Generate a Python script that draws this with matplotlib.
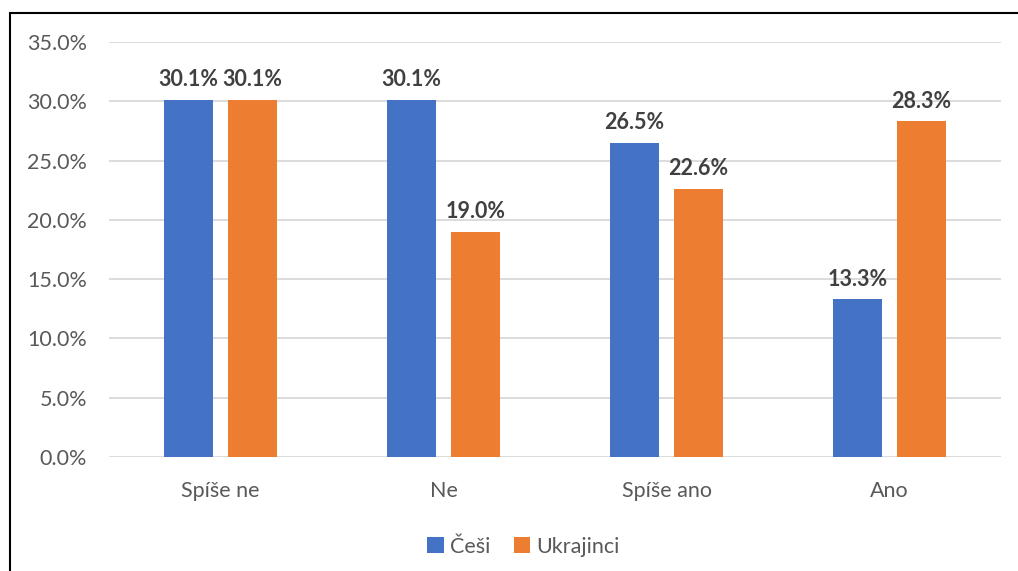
import numpy as np
import matplotlib.pyplot as plt
from matplotlib.patches import Rectangle
from matplotlib.ticker import FuncFormatter

# Data
categories = ['Spíše ne', 'Ne', 'Spíše ano', 'Ano']
cesi = [30.1, 30.1, 26.5, 13.3]
ukrajinci = [30.1, 19.0, 22.6, 28.3]
series_names = ['Češi', 'Ukrajinci']

blue = '#4472C4'
orange = '#ED7D31'
text_col = '#595959'
label_col = '#404040'

plt.rcParams['font.family'] = ['Lato', 'DejaVu Sans']

fig = plt.figure(figsize=(10.18, 5.71), dpi=100)
ax = fig.add_axes([0.1071, 0.1996, 0.8762, 0.7268])

x = np.arange(len(categories))
w = 0.224
off = 0.287
b1 = ax.bar(x - off / 2, cesi, w, color=blue, label=series_names[0], zorder=3)
b2 = ax.bar(x + off / 2, ukrajinci, w, color=orange, label=series_names[1], zorder=3)

for bars, vals in ((b1, cesi), (b2, ukrajinci)):
    for r, v in zip(bars, vals):
        ax.annotate(f'{v:.1f}%', (r.get_x() + r.get_width() / 2, v),
                    xytext=(0, 7), textcoords='offset points',
                    ha='center', va='bottom', fontsize=15.5, fontweight='bold',
                    color=label_col)

ax.set_xlim(-0.5, len(categories) - 0.5)
ax.set_ylim(0, 35)
ax.set_yticks(np.arange(0, 35.1, 5))
ax.yaxis.set_major_formatter(FuncFormatter(lambda v, p: f'{v:.1f}%'))
ax.set_xticks(x)
ax.set_xticklabels(categories)
ax.tick_params(axis='both', length=0, labelsize=15.5, colors=text_col)
ax.tick_params(axis='y', pad=16)
ax.tick_params(axis='x', pad=17)
ax.grid(axis='y', color='#d9d9d9', linewidth=1.3, zorder=0)
for s in ax.spines.values():
    s.set_visible(False)

leg = ax.legend(loc='upper center', bbox_to_anchor=(0.465, -0.145), ncol=2,
                frameon=False, fontsize=15.5, handlelength=0.75, handleheight=0.75,
                handletextpad=0.3, columnspacing=1.1)
for t in leg.get_texts():
    t.set_color(text_col)

# outer chart frame (left and top edges visible)
fig.patches.append(Rectangle((10 / 1018, -0.1), 1.2, (571 - 13) / 571 + 0.1,
                             transform=fig.transFigure, fill=False,
                             edgecolor='black', linewidth=1.5))

fig.savefig('out.png', dpi=100)
